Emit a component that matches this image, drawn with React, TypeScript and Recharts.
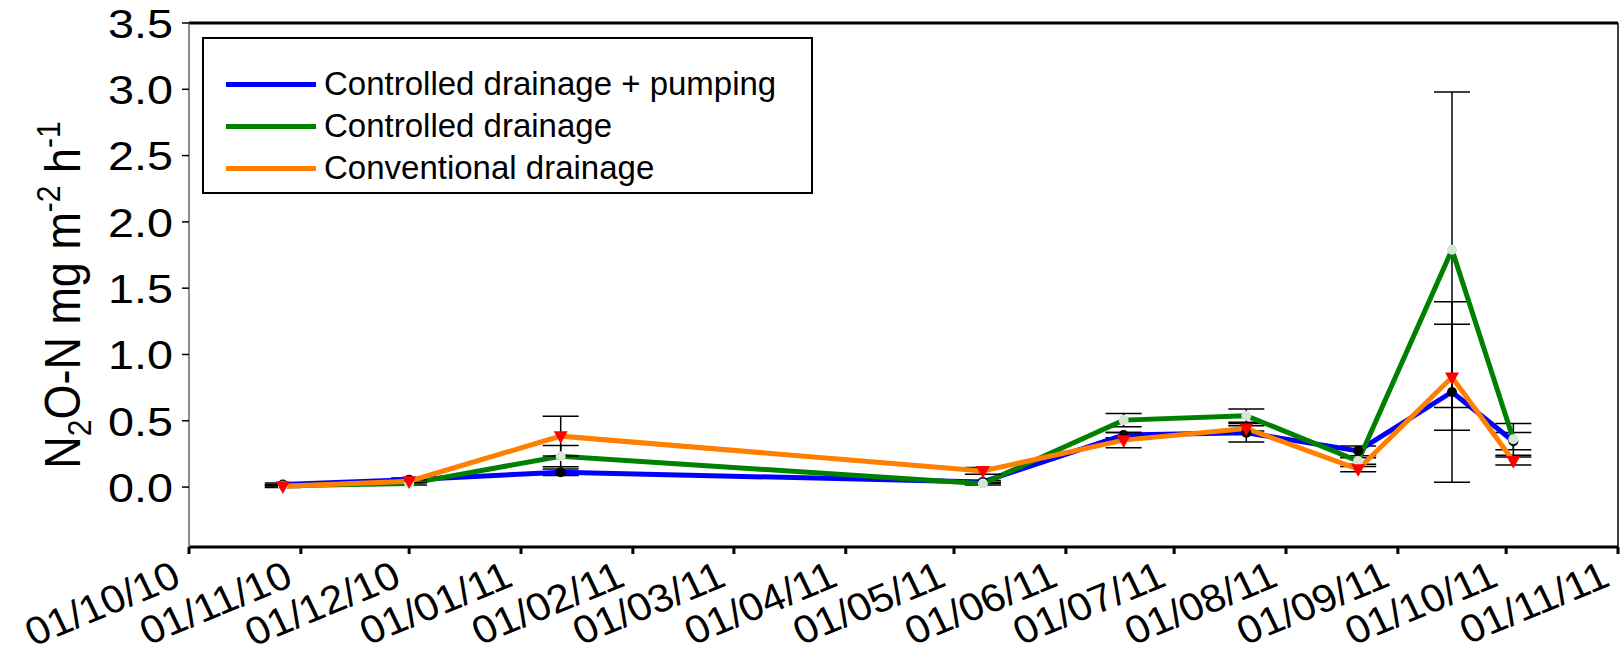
import React from 'react';
import { LineChart, Line, XAxis, YAxis, ErrorBar, Legend, ReferenceLine, Label } from 'recharts';

const sampleDates = ['2010-10-27', '2010-12-01', '2011-01-12', '2011-05-09', '2011-06-17', '2011-07-21', '2011-08-21', '2011-09-16', '2011-10-03'];
const pumping = [0.02, 0.056, 0.112, 0.039, 0.392, 0.41, 0.273, 0.717, 0.346];
const pumpingErr = [0.01, 0.012, 0.025, 0.01, 0.02, 0.07, 0.037, 0.68, 0.065];
const controlled = [0.01, 0.026, 0.233, 0.026, 0.505, 0.538, 0.197, 1.79, 0.36];
const controlledErr = [0.01, 0.01, 0.08, 0.01, 0.05, 0.05, 0.025, 1.19, 0.12];
const conventional = [0.006, 0.044, 0.384, 0.122, 0.354, 0.442, 0.135, 0.828, 0.197];
const conventionalErr = [0.01, 0.012, 0.15, 0.025, 0.058, 0.02, 0.02, 0.4, 0.03];

const tickDates = ['2010-10-01', '2010-11-01', '2010-12-01', '2011-01-01', '2011-02-01', '2011-03-01', '2011-04-01', '2011-05-01', '2011-06-01', '2011-07-01', '2011-08-01', '2011-09-01', '2011-10-01', '2011-11-01'];
const tickLabels = ['01/10/10', '01/11/10', '01/12/10', '01/01/11', '01/02/11', '01/03/11', '01/04/11', '01/05/11', '01/06/11', '01/07/11', '01/08/11', '01/09/11', '01/10/11', '01/11/11'];
const yTicks = [0, 0.5, 1.0, 1.5, 2.0, 2.5, 3.0, 3.5];

const seriesNames = ['Controlled drainage + pumping', 'Controlled drainage', 'Conventional drainage'];
const seriesColors = ['#0000ff', '#008000', '#ff8000'];

const FONT = '"Liberation Sans", Arial, sans-serif';
const origin = Date.UTC(2010, 9, 1);
const toDay = (s: string) => {
  const [y, m, d] = s.split('-').map(Number);
  return Math.round((Date.UTC(y, m - 1, d) - origin) / 86400000);
};
const tickDays = tickDates.map(toDay);
const endDay = tickDays[tickDays.length - 1];

const data = sampleDates.map((d, i) => ({
  x: toDay(d),
  pumping: pumping[i],
  pumpingErr: pumpingErr[i],
  controlled: controlled[i],
  controlledErr: controlledErr[i],
  conventional: conventional[i],
  conventionalErr: conventionalErr[i],
}));

const XTick = (props: any) => {
  const { x, y, payload } = props;
  const idx = tickDays.indexOf(payload.value);
  const label = idx >= 0 ? tickLabels[idx] : '';
  const ax = x - 6;
  const ay = y + 29;
  return (
    <g transform={`translate(${ax}, ${ay}) scale(1.08, 1) rotate(-24)`}>
      <text x={0} y={0} textAnchor="end" fontSize={39} fontFamily={FONT} fill="#000">{label}</text>
    </g>
  );
};

const YTick = (props: any) => {
  const { x, y, payload } = props;
  return (
    <g transform={`translate(${x - 7}, ${y}) scale(1.14, 1)`}>
      <text x={0} y={0} dy="0.36em" textAnchor="end" fontSize={41} fontFamily={FONT} fill="#000">
        {Number(payload.value).toFixed(1)}
      </text>
    </g>
  );
};

const BlackDot = (props: any) => {
  const { cx, cy } = props;
  if (cx == null || cy == null) return null;
  return <circle cx={cx} cy={cy} r={5} fill="#000" />;
};
const PaleDot = (props: any) => {
  const { cx, cy } = props;
  if (cx == null || cy == null) return null;
  return <circle cx={cx} cy={cy} r={5} fill="#d6e6d6" />;
};
const RedTriangle = (props: any) => {
  const { cx, cy } = props;
  if (cx == null || cy == null) return null;
  const s = 7;
  return <polygon points={`${cx - s},${cy - s * 0.7} ${cx + s},${cy - s * 0.7} ${cx},${cy + s * 1.1}`} fill="#ff0000" />;
};

const YLabel = (props: any) => {
  const vb = props.viewBox || { x: 0, y: 0, width: 0, height: 0 };
  const cx = 80;
  const cy = vb.y + vb.height / 2 + 10;
  return (
    <g transform={`translate(${cx}, ${cy}) scale(1.12, 1) rotate(-90)`}>
      <text x={0} y={0} textAnchor="middle" fontSize={45} fontFamily={FONT} fill="#000">
        <tspan>N</tspan>
        <tspan fontSize={30} dy={10}>2</tspan>
        <tspan dy={-10}>O-N mg m</tspan>
        <tspan fontSize={30} dy={-18}>-2</tspan>
        <tspan dy={18}> h</tspan>
        <tspan fontSize={30} dy={-18}>-1</tspan>
      </text>
    </g>
  );
};

const LegendBox = () => (
  <div style={{
    width: 607, height: 153, border: '2px solid #000', background: '#fff', position: 'relative',
    fontFamily: FONT, fontSize: 33, color: '#000',
  }}>
    {seriesNames.map((n, i) => (
      <div key={n} style={{ position: 'absolute', left: 22, top: 25 + i * 42, height: 40, display: 'flex', alignItems: 'center' }}>
        <div style={{ width: 90, height: 5, background: seriesColors[i], marginRight: 8 }} />
        <span style={{ whiteSpace: 'nowrap' }}>{n}</span>
      </div>
    ))}
  </div>
);

export default function App() {
  return (
    <div style={{ position: 'absolute', left: 0, top: 0, width: 1624, height: 656, background: '#fff' }}>
      <LineChart width={1624} height={656} data={data} margin={{ top: 23, right: 6, bottom: 0, left: 0 }}>
        <XAxis type="number" dataKey="x" domain={[0, endDay]} ticks={tickDays} interval={0}
          height={109} tick={<XTick />} axisLine={{ stroke: '#000', strokeWidth: 3 }}
          tickLine={{ stroke: '#000', strokeWidth: 3 }} tickSize={7} allowDataOverflow />
        <YAxis type="number" domain={[-0.452, 3.5]} ticks={yTicks} interval={0} width={189}
          tick={<YTick />} axisLine={{ stroke: '#666', strokeWidth: 1.5 }}
          tickLine={{ stroke: '#000', strokeWidth: 1.5 }} tickSize={7} allowDataOverflow>
          <Label content={<YLabel />} position="left" />
        </YAxis>
        <ReferenceLine y={3.5} stroke="#000" strokeWidth={3} ifOverflow="extendDomain" />
        <ReferenceLine x={endDay} stroke="#000" strokeWidth={1.5} />
        <Line type="linear" dataKey="pumping" name={seriesNames[0]} stroke={seriesColors[0]} strokeWidth={5}
          dot={<BlackDot />} activeDot={false} isAnimationActive={false}>
          <ErrorBar dataKey="pumpingErr" width={18} stroke="#000" strokeWidth={1.5} direction="y" />
        </Line>
        <Line type="linear" dataKey="controlled" name={seriesNames[1]} stroke={seriesColors[1]} strokeWidth={5}
          dot={<PaleDot />} activeDot={false} isAnimationActive={false}>
          <ErrorBar dataKey="controlledErr" width={18} stroke="#000" strokeWidth={1.5} direction="y" />
        </Line>
        <Line type="linear" dataKey="conventional" name={seriesNames[2]} stroke={seriesColors[2]} strokeWidth={5}
          dot={<RedTriangle />} activeDot={false} isAnimationActive={false}>
          <ErrorBar dataKey="conventionalErr" width={18} stroke="#000" strokeWidth={1.5} direction="y" />
        </Line>
        <Legend layout="vertical" align="center" verticalAlign="middle" content={<LegendBox />}
          wrapperStyle={{ position: 'absolute', left: 202, top: 37, width: 611, height: 157 }} />
      </LineChart>
    </div>
  );
}
